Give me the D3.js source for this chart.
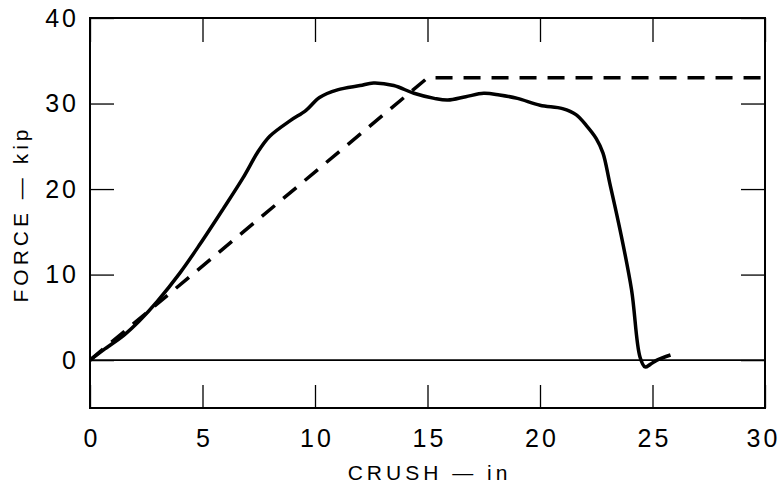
<!DOCTYPE html>
<html>
<head>
<meta charset="utf-8">
<script src="https://cdn.jsdelivr.net/npm/d3@7"></script>
<style>
  body { margin: 0; background: #fff; }
  svg text { font-family: "Liberation Sans", Arial, sans-serif; fill: #000; }
  .domain { display: none; }
</style>
</head>
<body>
<div id="chart"></div>
<script>
// measured crush / force curve
var crushMeasured = [0, 0.6, 1.5, 2.2, 3.0, 4.0, 4.9, 5.9, 6.8, 7.5, 8.0, 8.9, 9.6, 10.2, 11.0, 12.0, 12.6,
  13.5, 14.4, 15.3, 15.9, 16.7, 17.5, 18.2, 19.0, 20.0, 21.0, 21.6, 22.1, 22.5, 22.8, 23.1, 23.56,
  24.07, 24.44, 24.67, 24.9, 25.2, 25.8];
var forceMeasured = [0, 1.2, 2.9, 4.6, 6.9, 10.2, 13.6, 17.6, 21.3, 24.5, 26.2, 28.0, 29.2, 30.7, 31.6, 32.1, 32.4,
  32.1, 31.2, 30.6, 30.4, 30.8, 31.2, 31.0, 30.6, 29.8, 29.4, 28.7, 27.3, 25.9, 24.2, 20.7, 15.2,
  8.2, 0.4, -0.8, -0.5, 0, 0.6];

// idealised (dashed) curve
var crushModel = [0, 15, 29.9];
var forceModel = [0, 33, 33];

var xTicks = [0, 5, 10, 15, 20, 25, 30];
var yTicks = [0, 10, 20, 30, 40];

var width = 779,
    height = 485,
    margin = {top: 18, right: 14, bottom: 77, left: 90};

var svg = d3.select("#chart")
  .append("svg")
  .attr("width", width)
  .attr("height", height);

var x = d3.scaleLinear()
  .domain([0, 30])
  .range([margin.left, width - margin.right]);

var y = d3.scaleLinear()
  .domain([-5.6, 40])
  .range([height - margin.bottom, margin.top]);

// tick label style
function labelStyle(g) {
  g.selectAll("line").attr("stroke-width", 1.3);
  g.selectAll("text")
    .attr("fill", "#000")
    .style("font-size", "25px")
    .style("letter-spacing", "3px");
}

// inward ticks on all four sides
svg.append("g")
  .attr("transform", "translate(0," + y(-5.6) + ")")
  .call(d3.axisBottom(x).tickValues(xTicks).tickSize(-23).tickPadding(21))
  .call(labelStyle)
  .call(function(g) {
    g.selectAll("text").attr("x", function(d) { return d == 30 ? -2 : 1.5; });
  });

svg.append("g")
  .attr("transform", "translate(0," + y(40) + ")")
  .call(d3.axisTop(x).tickValues(xTicks).tickSize(-24).tickFormat(""))
  .call(function(g) { g.selectAll("line").attr("stroke-width", 1.3); });

svg.append("g")
  .attr("transform", "translate(" + x(0) + ",0)")
  .call(d3.axisLeft(y).tickValues(yTicks).tickSize(-24).tickPadding(11))
  .call(labelStyle);

svg.append("g")
  .attr("transform", "translate(" + x(30) + ",0)")
  .call(d3.axisRight(y).tickValues(yTicks).tickSize(-24).tickFormat(""))
  .call(function(g) { g.selectAll("line").attr("stroke-width", 1.3); });

// frame
svg.append("rect")
  .attr("x", x(0))
  .attr("y", y(40))
  .attr("width", x(30) - x(0))
  .attr("height", y(-5.6) - y(40))
  .attr("fill", "none")
  .attr("stroke", "#000")
  .attr("stroke-width", 2);

// zero line
svg.append("line")
  .attr("x1", x(0))
  .attr("x2", x(30))
  .attr("y1", y(0))
  .attr("y2", y(0))
  .attr("stroke", "#000")
  .attr("stroke-width", 1.6);

var line = d3.line()
  .x(function(d) { return x(d[0]); })
  .y(function(d) { return y(d[1]); });

svg.append("path")
  .datum(d3.zip(crushModel, forceModel))
  .attr("d", line)
  .attr("fill", "none")
  .attr("stroke", "#000")
  .attr("stroke-width", 3.5)
  .attr("stroke-dasharray", "17,11");

svg.append("path")
  .datum(d3.zip(crushMeasured, forceMeasured))
  .attr("d", line.curve(d3.curveCatmullRom.alpha(0.5)))
  .attr("fill", "none")
  .attr("stroke", "#000")
  .attr("stroke-width", 3.5)
  .attr("stroke-linejoin", "round");

// axis titles
svg.append("text")
  .attr("x", (x(0) + x(30)) / 2 + 2)
  .attr("y", 480)
  .attr("text-anchor", "middle")
  .attr("fill", "#000")
  .style("font-size", "21px")
  .style("letter-spacing", "4px")
  .text("CRUSH — in");

svg.append("text")
  .attr("transform", "translate(28," + 214 + ") rotate(-90)")
  .attr("text-anchor", "middle")
  .attr("fill", "#000")
  .style("font-size", "21px")
  .style("letter-spacing", "4px")
  .text("FORCE — kip");
</script>
</body>
</html>
